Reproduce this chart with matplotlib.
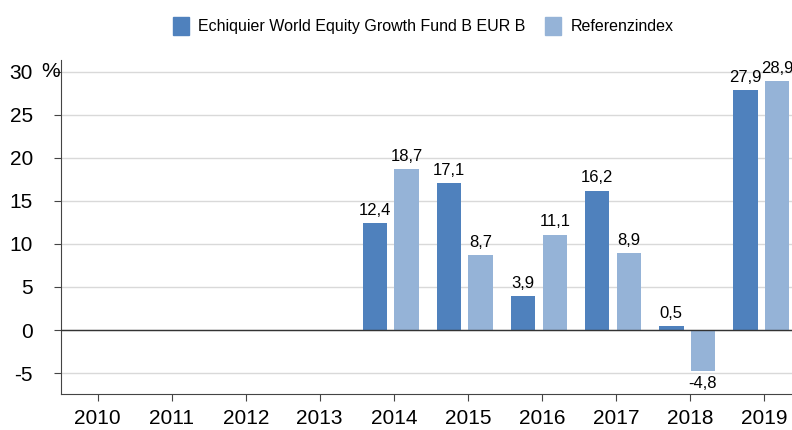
import matplotlib.pyplot as plt
import matplotlib.transforms as mtransforms
from matplotlib.patches import Patch
import numpy as np

plt.rcParams['font.family'] = ['Liberation Sans', 'DejaVu Sans']

years = ['2010', '2011', '2012', '2013', '2014', '2015', '2016', '2017', '2018', '2019']
fund = [None, None, None, None, 12.4, 17.1, 3.9, 16.2, 0.5, 27.9]
index = [None, None, None, None, 18.7, 8.7, 11.1, 8.9, -4.8, 28.9]
fund_name = 'Echiquier World Equity Growth Fund B EUR B'
index_name = 'Referenzindex'

c_fund = '#4f81bd'
c_index = '#95b3d7'

fig = plt.figure(figsize=(7.92, 4.30), dpi=100)
ax = fig.add_axes([0.0766, 0.0837, 0.9234, 0.777])

x = np.arange(len(years))
w = 0.335


def label(xp, v):
    va = 'bottom' if v >= 0 else 'top'
    ax.text(xp, v + (0.6 if v >= 0 else -0.6), f'{v:.1f}'.replace('.', ','),
            ha='center', va=va, fontsize=12)


for i in range(len(years)):
    if fund[i] is not None:
        ax.bar(x[i] - 0.253, fund[i], w, color=c_fund, zorder=3)
        label(x[i] - 0.253, fund[i])
    if index[i] is not None:
        ax.bar(x[i] + 0.177, index[i], w, color=c_index, zorder=3)
        label(x[i] + 0.177, index[i])

ax.set_xlim(-0.5, 9.38)
ax.set_ylim(-7.44, 31.4)
ax.set_xticks(x)
ax.set_xticklabels(years, fontsize=15)
yt = [-5, 0, 5, 10, 15, 20, 25, 30]
ax.set_yticks(yt)
ax.set_yticklabels([str(v) for v in yt], fontsize=15)
ax.tick_params(axis='y', length=5, pad=15)
ax.tick_params(axis='x', length=5, pad=6)
ax.tick_params(axis='both', color='#444444')
ax.grid(axis='y', color='#d9d9d9', linewidth=1, zorder=0)
ax.axhline(0, color='#333333', linewidth=1, zorder=4)

# percent sign after the top tick label
trans = mtransforms.blended_transform_factory(fig.transFigure, ax.transData)
ax.text(41 / 792, 30, '%', transform=trans, ha='left', va='center', fontsize=15)

for s in ['top', 'right']:
    ax.spines[s].set_visible(False)
ax.spines['left'].set_color('#444444')
ax.spines['bottom'].set_color('#444444')

handles = [Patch(color=c_fund, label=fund_name), Patch(color=c_index, label=index_name)]
fig.legend(handles=handles, loc='center', bbox_to_anchor=(0.534, 0.94), ncol=2,
           frameon=False, fontsize=11.5, handlelength=1.0, handleheight=1.3,
           handletextpad=0.6, columnspacing=1.2)

fig.savefig('out.png', dpi=100)
